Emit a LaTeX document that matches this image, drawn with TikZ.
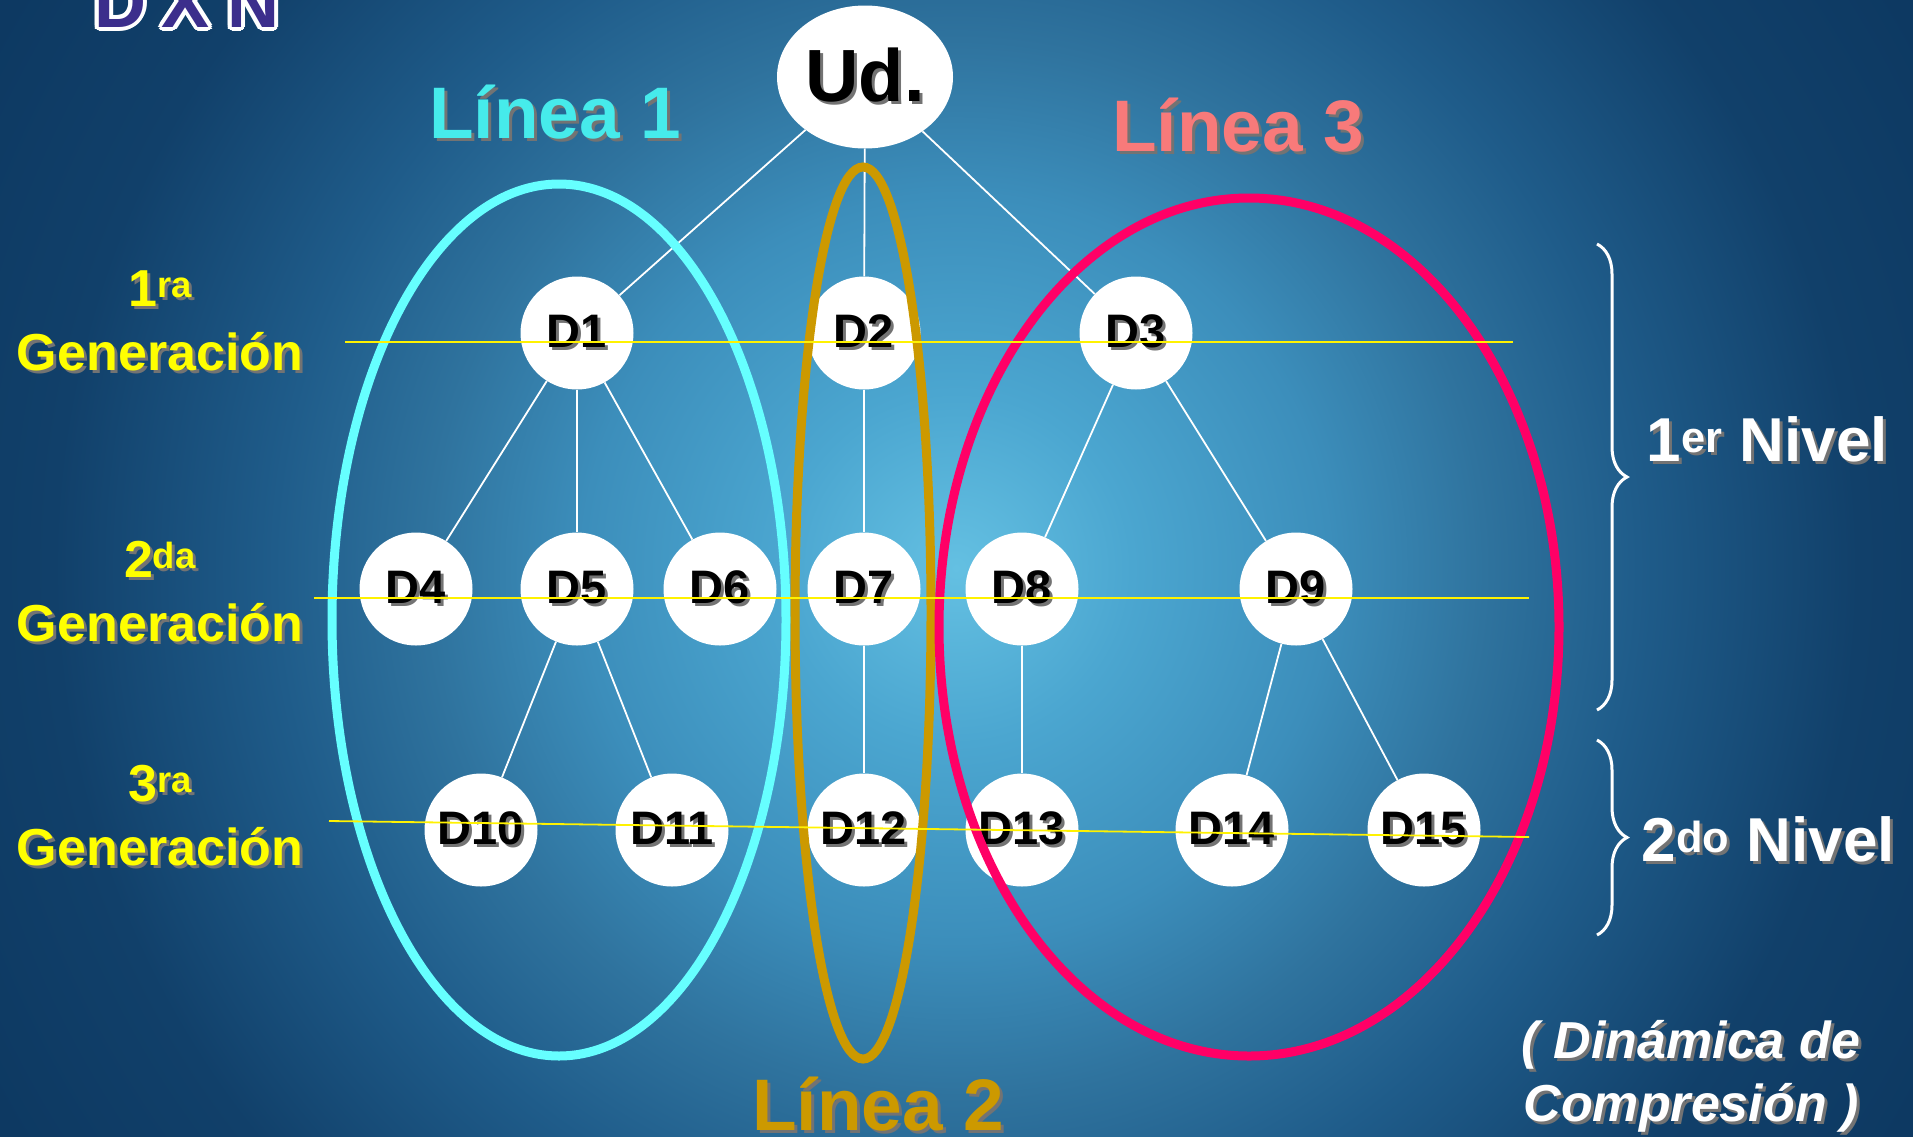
\documentclass[tikz,border=0pt]{standalone}
\usepackage{fontspec}
\setmainfont{Liberation Sans}
\usetikzlibrary{shapes.geometric,decorations.pathreplacing,positioning}

\definecolor{bgc0}{RGB}{100,192,226}
\definecolor{bgc1}{RGB}{75,166,208}
\definecolor{bgc2}{RGB}{60,142,187}
\definecolor{bgc3}{RGB}{47,115,158}
\definecolor{bgc4}{RGB}{31,92,138}
\definecolor{bgc5}{RGB}{17,64,106}
\definecolor{bgc6}{RGB}{13,57,98}
\definecolor{ringcyan}{RGB}{102,255,255}
\definecolor{ringgold}{RGB}{204,153,0}
\definecolor{ringred}{RGB}{255,0,102}
\definecolor{txtcyan}{RGB}{70,235,235}
\definecolor{txtsalmon}{RGB}{248,122,122}
\definecolor{genyellow}{RGB}{255,255,0}
\definecolor{logopurple}{RGB}{60,46,140}

% 25bp = edge of the shaded box
\pgfdeclareradialshading{bgglow}{\pgfpoint{0bp}{0bp}}{%
  color(0bp)=(bgc0); color(4bp)=(bgc1); color(8.5bp)=(bgc2);
  color(12bp)=(bgc3); color(15.5bp)=(bgc4); color(20.5bp)=(bgc5);
  color(25bp)=(bgc6); color(50bp)=(bgc6)}

% text with a drop shadow
\newcommand{\shtxt}[2][black!55]{\leavevmode\rlap{\kern3pt\raisebox{-3pt}{\textcolor{#1}{#2}}}#2}

\begin{document}
\begin{tikzpicture}[x=1pt,y=-1pt]

% size of each node
\def\dsz{113pt}
% node style definition
\tikzstyle{dist} = [
	circle, fill=white, inner sep=0pt, minimum size=\dsz,
	font=\fontsize{47}{47}\selectfont\bfseries ];
\tikzstyle{link} = [draw=white, line width=1.8pt];
\tikzstyle{genline} = [draw=yellow, line width=1.8pt];
\tikzstyle{ring} = [line width=9pt];
\tikzstyle{gen} = [text=genyellow, align=center,
	font=\fontsize{52}{64}\selectfont\bfseries];
\tikzstyle{linea} = [anchor=base, font=\fontsize{73}{73}\selectfont\bfseries];
\tikzstyle{nivel} = [anchor=west, text=white,
	font=\fontsize{62}{62}\selectfont\bfseries];
\tikzstyle{logo} = [anchor=base, inner sep=0pt,
	font=\fontsize{72}{72}\selectfont\bfseries];

\useasboundingbox (0,0) rectangle (1913,1136);
\shade[shading=bgglow] (-144,-532) rectangle (2056,1668);

% logo, cut at the top
\foreach \lx/\lt in {120/D,186/X,253/N} {
	\foreach \a in {0,30,...,330}
		\node[logo,text=white] at ([shift={(\a:4pt)}]\lx,27) {\lt};
	\node[logo,text=logopurple] (logo\lt) at (\lx,27) {\lt};
}

\node[ellipse, fill=white, inner sep=0pt, minimum width=176pt, minimum height=143pt,
	font=\fontsize{74}{74}\selectfont\bfseries] (ud) at (865,77) {\shtxt{Ud.}};

\node[dist] (d1) at (577,333) {\shtxt{D1}};
\node[dist] (d2) at (864,333) {\shtxt{D2}};
\node[dist] (d3) at (1136,333) {\shtxt{D3}};

\node[dist] (d4) at (416,589) {\shtxt{D4}};
\node[dist] (d5) at (577,589) {\shtxt{D5}};
\node[dist] (d6) at (720,589) {\shtxt{D6}};
\node[dist] (d7) at (864,589) {\shtxt{D7}};
\node[dist] (d8) at (1022,589) {\shtxt{D8}};
\node[dist] (d9) at (1296,589) {\shtxt{D9}};

\node[dist] (d10) at (481,830) {\shtxt{D10}};
\node[dist] (d11) at (672,830) {\shtxt{D11}};
\node[dist] (d12) at (864,830) {\shtxt{D12}};
\node[dist] (d13) at (1022,830) {\shtxt{D13}};
\node[dist] (d14) at (1232,830) {\shtxt{D14}};
\node[dist] (d15) at (1424,830) {\shtxt{D15}};

\foreach \a/\b in {ud/d1,ud/d2,ud/d3,d1/d4,d1/d5,d1/d6,d2/d7,d3/d8,d3/d9,
		d5/d10,d5/d11,d7/d12,d8/d13,d9/d14,d9/d15}
	\draw[link] (\a) -- (\b);

% lines
\draw[ring,draw=ringcyan] (559,620) ellipse [x radius=227, y radius=436];
\draw[ring,draw=ringgold] (863,613) ellipse [x radius=68, y radius=446];
\draw[ring,draw=ringred] (1249,627) ellipse [x radius=310, y radius=429];

\node[linea,text=txtcyan] (l1) at (555,138) {\shtxt{Línea 1}};
\node[linea,text=ringgold] (l2) at (878,1130) {\shtxt{Línea 2}};
\node[linea,text=txtsalmon] (l3) at (1238,151) {\shtxt{Línea 3}};

% generations
\coordinate (g1a) at (345,342);  \coordinate (g1b) at (1513,342);
\coordinate (g2a) at (314,598);  \coordinate (g2b) at (1529,598);
\coordinate (g3a) at (329,821);  \coordinate (g3b) at (1529,837);
\draw[genline] (g1a) -- (g1b);
\draw[genline] (g2a) -- (g2b);
\draw[genline] (g3a) -- (g3b);

\node[gen] (gen1) at (160,322) {\shtxt{1\textsuperscript{ra}}\\\shtxt{Generación}};
\node[gen] (gen2) at (160,593) {\shtxt{2\textsuperscript{da}}\\\shtxt{Generación}};
\node[gen] (gen3) at (160,817) {\shtxt{3\textsuperscript{ra}}\\\shtxt{Generación}};

% levels
\coordinate (b1a) at (1597,244); \coordinate (b1b) at (1597,710);
\coordinate (b2a) at (1597,740); \coordinate (b2b) at (1597,935);
\draw[white, line width=3pt, decorate, decoration={brace, amplitude=30pt}] (b1a) -- (b1b);
\draw[white, line width=3pt, decorate, decoration={brace, amplitude=30pt}] (b2a) -- (b2b);
\node[nivel] (niv1) at (1643,441) {\shtxt{1\textsuperscript{er} Nivel}};
\node[nivel] (niv2) at (1638,841) {\shtxt{2\textsuperscript{do} Nivel}};

\node[text=white, align=center, font=\fontsize{52}{63}\selectfont\bfseries\itshape]
	(dyn) at (1691,1078) {\shtxt{( Dinámica de}\\\shtxt{Compresión )}};

\end{tikzpicture}
\end{document}
